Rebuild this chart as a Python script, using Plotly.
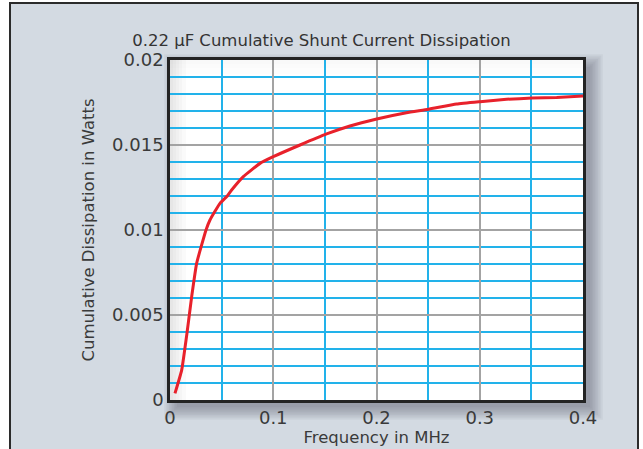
import plotly.graph_objects as go

# Data
freq_mhz = [0.0048, 0.0113, 0.0168, 0.021, 0.0258, 0.0349, 0.0387, 0.0484, 0.0555, 0.0597,
            0.071, 0.0872, 0.1, 0.1259, 0.1517, 0.1743, 0.2002, 0.229, 0.2502,
            0.2776, 0.3002, 0.326, 0.3509, 0.3745, 0.4]
dissipation_w = [0.00039, 0.00176, 0.0041, 0.00608, 0.00804, 0.0100, 0.01059, 0.01157, 0.0120,
                 0.01235, 0.01314, 0.01392, 0.01431, 0.0150, 0.01565, 0.01612, 0.01653,
                 0.0169, 0.0171, 0.01741, 0.01755, 0.01769, 0.01776, 0.0178, 0.01788]
x_ticks = [0, 0.1, 0.2, 0.3, 0.4]
x_tick_labels = ["0", "0.1", "0.2", "0.3", "0.4"]
y_ticks = [0, 0.005, 0.01, 0.015, 0.02]
y_tick_labels = ["0", "0.005", "0.01", "0.015", "0.02"]

W, H = 643, 449
L, R, T, B = 170, 583, 60, 400  # plot area in px


def px_x(p):
    return (p - L) / (R - L)


def px_y(p):
    return (B - p) / (B - T)


shapes = []
# outer panel
shapes.append(dict(type="rect", xref="paper", yref="paper", layer="below",
                   x0=px_x(10), x1=px_x(638), y0=px_y(470), y1=px_y(3),
                   fillcolor="#d3dae2", line=dict(color="#2b2b2b", width=2)))
# soft drop shadow (layered translucent rects)
off = 7
for i in range(9):
    g = 1.6 * i
    shapes.append(dict(type="rect", xref="paper", yref="paper", layer="below",
                       x0=px_x(L + off - g), x1=px_x(R + off + g),
                       y0=px_y(B + off + g), y1=px_y(T + off - g),
                       fillcolor="#46505c", opacity=0.055, line=dict(width=0)))
# white plot face
shapes.append(dict(type="rect", xref="paper", yref="paper", layer="below",
                   x0=0, x1=1, y0=0, y1=1, fillcolor="white", line=dict(width=0)))
# inner left shading
for w in [3, 6, 9, 12, 16]:
    shapes.append(dict(type="rect", xref="paper", yref="paper", layer="below",
                       x0=0, x1=px_x(L + w), y0=0, y1=1,
                       fillcolor="#808080", opacity=0.045, line=dict(width=0)))
# inner top shading
for h in [4, 8, 14]:
    shapes.append(dict(type="rect", xref="paper", yref="paper", layer="below",
                       x0=0, x1=1, y0=px_y(T + h), y1=1,
                       fillcolor="#808080", opacity=0.02, line=dict(width=0)))

fig = go.Figure()
fig.add_trace(go.Scatter(x=freq_mhz, y=dissipation_w, mode="lines",
                         line=dict(color="#e8212b", width=3, shape="spline", smoothing=0.4),
                         showlegend=False, hoverinfo="skip"))

font_family = "DejaVu Sans, Open Sans, sans-serif"
fig.update_layout(
    width=W, height=H,
    margin=dict(l=L, r=W - R, t=T, b=H - B, pad=0),
    paper_bgcolor="white",
    plot_bgcolor="rgba(0,0,0,0)",
    shapes=shapes,
    font=dict(family=font_family, color="#333333"),
    title=dict(text="0.22 µF Cumulative Shunt Current Dissipation",
               x=0.5, xanchor="center", y=1 - 40 / H, yanchor="middle",
               font=dict(size=16.5, color="#333333")),
    xaxis=dict(range=[0, 0.4], tickvals=x_ticks, ticktext=x_tick_labels,
               showgrid=True, gridcolor="#a3a3a3", gridwidth=1.5,
               minor=dict(dtick=0.05, tick0=0, showgrid=True, gridcolor="#22b2ea", gridwidth=1.5),
               zeroline=False, showline=True, mirror=True, linecolor="#232323", linewidth=2.5,
               ticks="", tickfont=dict(size=18, color="#3a3a3a"), automargin=False,
               title=dict(text="Frequency in MHz", standoff=2,
                          font=dict(size=16.5, color="#3a3a3a"))),
    yaxis=dict(range=[0, 0.02], tickvals=y_ticks, ticktext=y_tick_labels,
               showgrid=True, gridcolor="#a3a3a3", gridwidth=1.5,
               minor=dict(dtick=0.001, tick0=0, showgrid=True, gridcolor="#22b2ea", gridwidth=1.5),
               zeroline=False, showline=True, mirror=True, linecolor="#232323", linewidth=2.5,
               ticks="", tickfont=dict(size=18, color="#3a3a3a"), automargin=False,
               title=dict(text="Cumulative Dissipation in Watts", standoff=14,
                          font=dict(size=16.5, color="#3a3a3a"))),
)

fig.write_html("out.html", config={"displayModeBar": False},
               post_script="document.body.style.margin='0';document.body.style.padding='0';")
